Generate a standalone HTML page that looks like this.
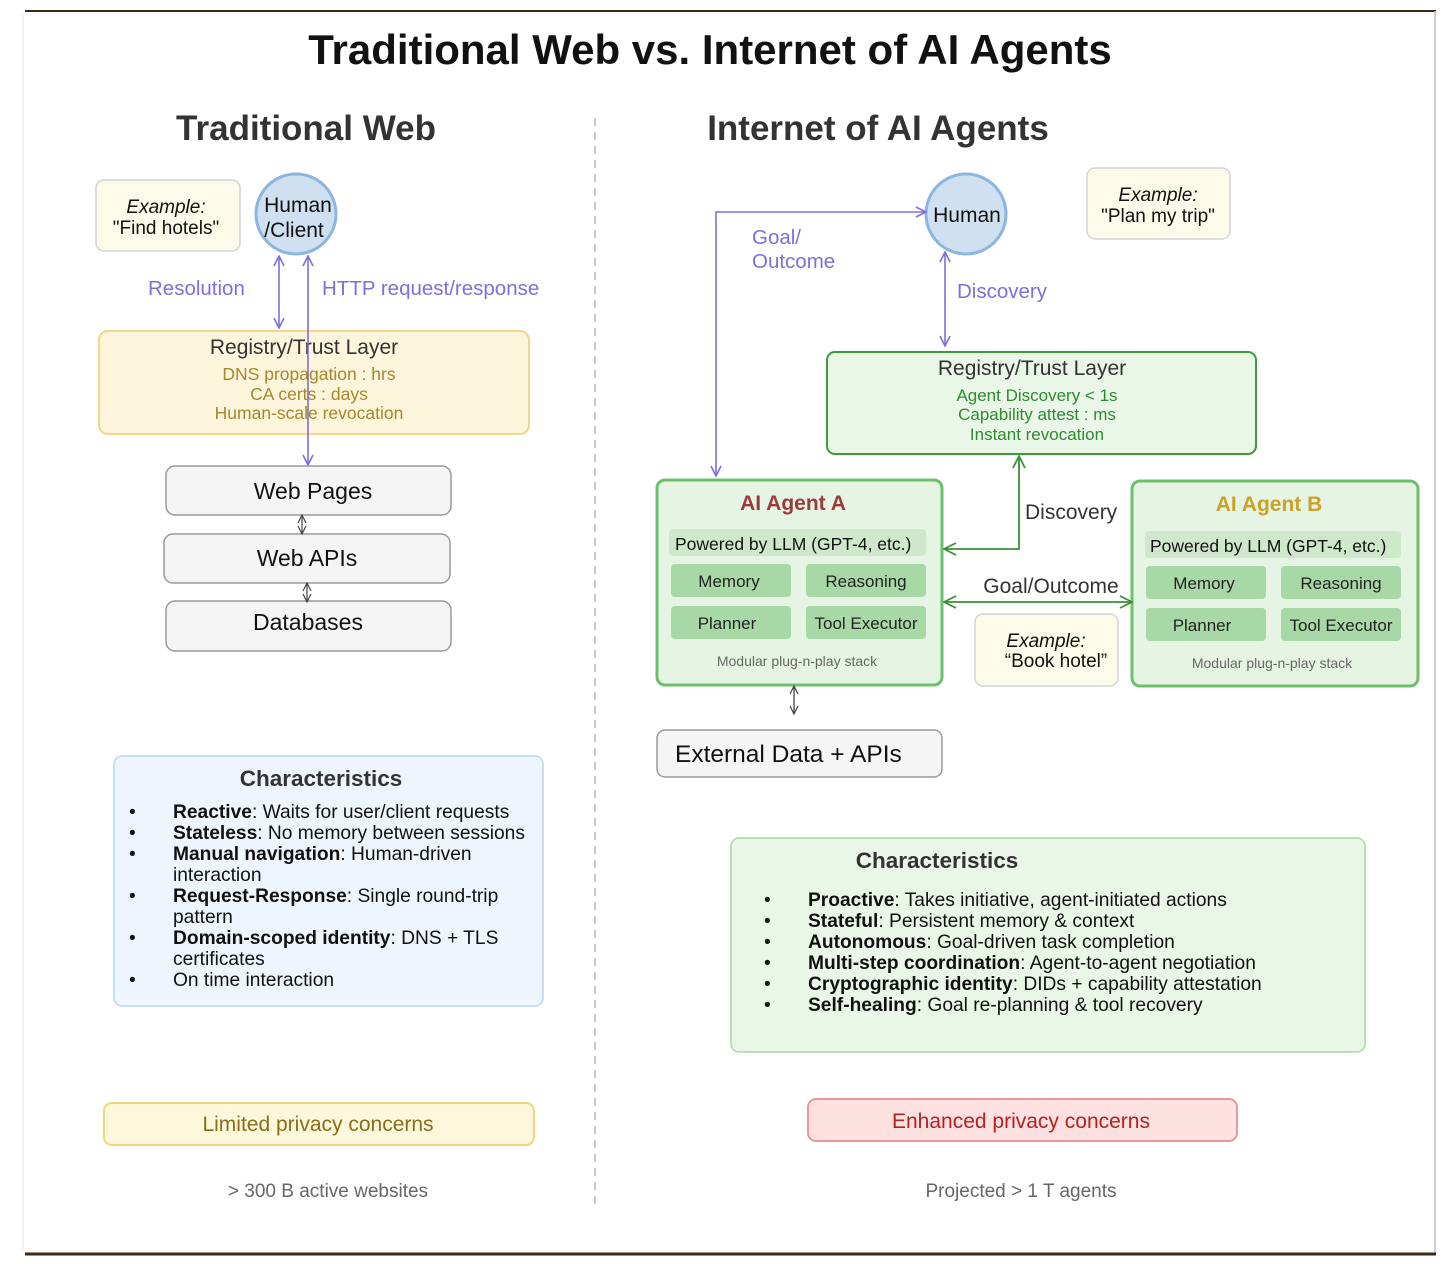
<!DOCTYPE html>
<html><head><meta charset="utf-8"><style>
html,body{margin:0;padding:0;background:#fff;}
svg{display:block;font-family:"Liberation Sans",Arial,sans-serif;}
</style></head><body>
<svg width="1446" height="1264" viewBox="0 0 1446 1264" xmlns="http://www.w3.org/2000/svg">
<defs>
<marker id="pa" viewBox="0 0 12 12" refX="11" refY="6" markerWidth="12" markerHeight="12" markerUnits="userSpaceOnUse" orient="auto-start-reverse"><path d="M1,1 L11,6 L1,11" fill="none" stroke="#7b70dc" stroke-width="1.6"/></marker>
<marker id="ga" viewBox="0 0 14 14" refX="13" refY="7" markerWidth="14" markerHeight="14" markerUnits="userSpaceOnUse" orient="auto-start-reverse"><path d="M1,1 L13,7 L1,13" fill="none" stroke="#3a8f3a" stroke-width="1.8"/></marker>
<marker id="ka" viewBox="0 0 10 10" refX="9" refY="5" markerWidth="10" markerHeight="10" markerUnits="userSpaceOnUse" orient="auto-start-reverse"><path d="M1,1 L9,5 L1,9" fill="none" stroke="#444" stroke-width="1.2"/></marker>
</defs>
<line x1="25" y1="11" x2="1436" y2="11" stroke="#3a2a1a" stroke-width="2"/>
<line x1="1435" y1="11" x2="1435" y2="1253" stroke="#bbb" stroke-width="1.5"/>
<line x1="23" y1="14" x2="23" y2="1250" stroke="#e6e6e6" stroke-width="1"/>
<line x1="25" y1="1254" x2="1436" y2="1254" stroke="#3a2a1a" stroke-width="3"/>

<text x="710" y="64" text-anchor="middle" font-size="42" font-weight="bold" fill="#111">Traditional Web vs. Internet of AI Agents</text>
<text x="306" y="140" text-anchor="middle" font-size="35" font-weight="bold" fill="#333">Traditional Web</text>
<text x="878" y="140" text-anchor="middle" font-size="35" font-weight="bold" fill="#333">Internet of AI Agents</text>
<line x1="595" y1="118" x2="595" y2="1210" stroke="#c8c8c8" stroke-width="2" stroke-dasharray="8,6"/>

<rect x="96" y="180" width="144" height="71" rx="8" fill="#fcfbe9" stroke="#d4d4d4" stroke-width="1.5"/>
<text x="166" y="213" text-anchor="middle" font-size="19" font-style="italic" fill="#111">Example:</text>
<text x="166" y="234" text-anchor="middle" font-size="19" fill="#111">"Find hotels"</text>
<circle cx="296" cy="214" r="40" fill="#cfe0f0" stroke="#8cb6e0" stroke-width="3"/>
<text x="298" y="212" text-anchor="middle" font-size="21" fill="#111">Human</text>
<text x="294" y="237" text-anchor="middle" font-size="21" fill="#111">/Client</text>
<line x1="279" y1="256" x2="279" y2="328" stroke="#7b70dc" stroke-width="1.6" marker-start="url(#pa)" marker-end="url(#pa)"/>
<text x="148" y="295" font-size="20.5" fill="#7b70dc">Resolution</text>
<text x="322" y="295" font-size="20.5" fill="#7b70dc">HTTP request/response</text>

<rect x="99" y="331" width="430" height="103" rx="9" fill="#fdf5dc" stroke="#f1d68c" stroke-width="2"/>
<text x="304" y="354" text-anchor="middle" font-size="21" fill="#333">Registry/Trust Layer</text>
<text x="309" y="380" text-anchor="middle" font-size="17.5" fill="#a8862a">DNS propagation : hrs</text>
<text x="309" y="400" text-anchor="middle" font-size="17.5" fill="#a8862a">CA certs : days</text>
<text x="309" y="419" text-anchor="middle" font-size="17.5" fill="#a8862a">Human-scale revocation</text>
<line x1="308" y1="256" x2="308" y2="465" stroke="#7b70dc" stroke-width="1.6" marker-start="url(#pa)" marker-end="url(#pa)"/>

<rect x="166" y="466" width="285" height="49" rx="9" fill="#f5f5f5" stroke="#9a9a9a" stroke-width="1.5"/>
<text x="313" y="499" text-anchor="middle" font-size="23" fill="#111">Web Pages</text>
<rect x="164" y="534" width="286" height="49" rx="9" fill="#f5f5f5" stroke="#9a9a9a" stroke-width="1.5"/>
<text x="307" y="566" text-anchor="middle" font-size="23" fill="#111">Web APIs</text>
<rect x="166" y="601" width="285" height="50" rx="9" fill="#f5f5f5" stroke="#9a9a9a" stroke-width="1.5"/>
<text x="308" y="630" text-anchor="middle" font-size="23" fill="#111">Databases</text>
<line x1="302" y1="515" x2="302" y2="534" stroke="#444" stroke-width="1.2" marker-start="url(#ka)" marker-end="url(#ka)"/>
<line x1="307" y1="583" x2="307" y2="602" stroke="#444" stroke-width="1.2" marker-start="url(#ka)" marker-end="url(#ka)"/>

<rect x="114" y="756" width="429" height="250" rx="8" fill="#eef5fd" stroke="#b9d6f2" stroke-width="1.5"/>
<text x="321" y="786" text-anchor="middle" font-size="22.5" font-weight="bold" fill="#333">Characteristics</text>
<g font-size="19.2" fill="#111">
<text x="129" y="818">•</text><text x="173" y="818"><tspan font-weight="bold">Reactive</tspan>: Waits for user/client requests</text>
<text x="129" y="839">•</text><text x="173" y="839"><tspan font-weight="bold">Stateless</tspan>: No memory between sessions</text>
<text x="129" y="860">•</text><text x="173" y="860"><tspan font-weight="bold">Manual navigation</tspan>: Human-driven</text>
<text x="173" y="881">interaction</text>
<text x="129" y="902">•</text><text x="173" y="902"><tspan font-weight="bold">Request-Response</tspan>: Single round-trip</text>
<text x="173" y="923">pattern</text>
<text x="129" y="944">•</text><text x="173" y="944"><tspan font-weight="bold">Domain-scoped identity</tspan>: DNS + TLS</text>
<text x="173" y="965">certificates</text>
<text x="129" y="986">•</text><text x="173" y="986">On time interaction</text>
</g>
<rect x="104" y="1103" width="430" height="42" rx="8" fill="#fdf7dc" stroke="#f0d77a" stroke-width="2"/>
<text x="318" y="1131" text-anchor="middle" font-size="21" fill="#8a6d1a">Limited privacy concerns</text>
<text x="328" y="1197" text-anchor="middle" font-size="19" fill="#666">&gt; 300 B active websites</text>

<circle cx="966" cy="214" r="40" fill="#cfe0f0" stroke="#8cb6e0" stroke-width="3"/>
<text x="967" y="222" text-anchor="middle" font-size="21" fill="#111">Human</text>
<rect x="1087" y="168" width="143" height="71" rx="8" fill="#fcfbe9" stroke="#d4d4d4" stroke-width="1.5"/>
<text x="1158" y="201" text-anchor="middle" font-size="19" font-style="italic" fill="#111">Example:</text>
<text x="1158" y="222" text-anchor="middle" font-size="19" fill="#111">"Plan my trip"</text>
<polyline points="716,476 716,212 926,212" fill="none" stroke="#7b70dc" stroke-width="1.6" marker-start="url(#pa)" marker-end="url(#pa)"/>
<text x="752" y="244" font-size="20.5" fill="#7b70dc">Goal/</text>
<text x="752" y="268" font-size="20.5" fill="#7b70dc">Outcome</text>
<line x1="945" y1="252" x2="945" y2="346" stroke="#7b70dc" stroke-width="1.6" marker-start="url(#pa)" marker-end="url(#pa)"/>
<text x="957" y="298" font-size="20.5" fill="#7b70dc">Discovery</text>

<rect x="827" y="352" width="429" height="102" rx="8" fill="#eaf7e8" stroke="#3d9a3d" stroke-width="2"/>
<text x="1032" y="375" text-anchor="middle" font-size="21" fill="#333">Registry/Trust Layer</text>
<text x="1037" y="401" text-anchor="middle" font-size="17" fill="#2e8b2e">Agent Discovery &lt; 1s</text>
<text x="1037" y="420" text-anchor="middle" font-size="17" fill="#2e8b2e">Capability attest : ms</text>
<text x="1037" y="440" text-anchor="middle" font-size="17" fill="#2e8b2e">Instant revocation</text>

<rect x="657" y="480" width="285" height="205" rx="8" fill="#e6f4e3" stroke="#6cc06c" stroke-width="3"/>
<text x="793" y="510" text-anchor="middle" font-size="21" font-weight="bold" fill="#9b3b3b">AI Agent A</text>
<rect x="669" y="529" width="257" height="27" rx="4" fill="#cfe8cb"/>
<text x="675" y="550" font-size="17.5" fill="#111">Powered by LLM (GPT-4, etc.)</text>
<rect x="671" y="564" width="120" height="33" rx="4" fill="#a8d8a6"/>
<rect x="806" y="564" width="120" height="33" rx="4" fill="#a8d8a6"/>
<rect x="671" y="606" width="120" height="33" rx="4" fill="#a8d8a6"/>
<rect x="806" y="606" width="120" height="33" rx="4" fill="#a8d8a6"/>
<g font-size="17" fill="#222" text-anchor="middle">
<text x="729" y="587">Memory</text><text x="866" y="587">Reasoning</text>
<text x="727" y="629">Planner</text><text x="866" y="629">Tool Executor</text>
</g>
<text x="797" y="666" text-anchor="middle" font-size="14" fill="#666">Modular plug-n-play stack</text>

<rect x="1132" y="481" width="286" height="205" rx="8" fill="#e6f4e3" stroke="#6cc06c" stroke-width="3"/>
<text x="1269" y="511" text-anchor="middle" font-size="21" font-weight="bold" fill="#c9a227">AI Agent B</text>
<rect x="1145" y="531" width="256" height="27" rx="4" fill="#cfe8cb"/>
<text x="1150" y="552" font-size="17.5" fill="#111">Powered by LLM (GPT-4, etc.)</text>
<rect x="1146" y="566" width="120" height="33" rx="4" fill="#a8d8a6"/>
<rect x="1281" y="566" width="120" height="33" rx="4" fill="#a8d8a6"/>
<rect x="1146" y="608" width="120" height="33" rx="4" fill="#a8d8a6"/>
<rect x="1281" y="608" width="120" height="33" rx="4" fill="#a8d8a6"/>
<g font-size="17" fill="#222" text-anchor="middle">
<text x="1204" y="589">Memory</text><text x="1341" y="589">Reasoning</text>
<text x="1202" y="631">Planner</text><text x="1341" y="631">Tool Executor</text>
</g>
<text x="1272" y="668" text-anchor="middle" font-size="14" fill="#666">Modular plug-n-play stack</text>

<polyline points="944,549 1019,549 1019,456" fill="none" stroke="#3a8f3a" stroke-width="1.8" marker-start="url(#ga)" marker-end="url(#ga)"/>
<text x="1025" y="519" font-size="21" fill="#333">Discovery</text>
<line x1="944" y1="602" x2="1132" y2="602" stroke="#3a8f3a" stroke-width="1.8" marker-start="url(#ga)" marker-end="url(#ga)"/>
<text x="1051" y="593" text-anchor="middle" font-size="21" fill="#333">Goal/Outcome</text>
<rect x="975" y="614" width="143" height="72" rx="8" fill="#fcfbe9" stroke="#d4d4d4" stroke-width="1.5"/>
<text x="1046" y="647" text-anchor="middle" font-size="19" font-style="italic" fill="#111">Example:</text>
<text x="1056" y="667" text-anchor="middle" font-size="19" fill="#111">“Book hotel”</text>

<line x1="794" y1="686" x2="794" y2="714" stroke="#444" stroke-width="1.3" marker-start="url(#ka)" marker-end="url(#ka)"/>
<rect x="657" y="730" width="285" height="47" rx="8" fill="#f5f5f5" stroke="#9a9a9a" stroke-width="1.5"/>
<text x="675" y="762" font-size="24.5" fill="#111">External Data + APIs</text>

<rect x="731" y="838" width="634" height="214" rx="8" fill="#eaf7e8" stroke="#a7d9a0" stroke-width="1.5"/>
<text x="937" y="868" text-anchor="middle" font-size="22.5" font-weight="bold" fill="#333">Characteristics</text>
<g font-size="19.2" fill="#111">
<text x="764" y="906">•</text><text x="808" y="906"><tspan font-weight="bold">Proactive</tspan>: Takes initiative, agent-initiated actions</text>
<text x="764" y="927">•</text><text x="808" y="927"><tspan font-weight="bold">Stateful</tspan>: Persistent memory &amp; context</text>
<text x="764" y="948">•</text><text x="808" y="948"><tspan font-weight="bold">Autonomous</tspan>: Goal-driven task completion</text>
<text x="764" y="969">•</text><text x="808" y="969"><tspan font-weight="bold">Multi-step coordination</tspan>: Agent-to-agent negotiation</text>
<text x="764" y="990">•</text><text x="808" y="990"><tspan font-weight="bold">Cryptographic identity</tspan>: DIDs + capability attestation</text>
<text x="764" y="1011">•</text><text x="808" y="1011"><tspan font-weight="bold">Self-healing</tspan>: Goal re-planning &amp; tool recovery</text>
</g>
<rect x="808" y="1099" width="429" height="42" rx="8" fill="#fde0e0" stroke="#e59a9a" stroke-width="2"/>
<text x="1021" y="1128" text-anchor="middle" font-size="21" fill="#b22222">Enhanced privacy concerns</text>
<text x="1021" y="1197" text-anchor="middle" font-size="19" fill="#666">Projected &gt; 1 T agents</text>
</svg>
</body></html>
